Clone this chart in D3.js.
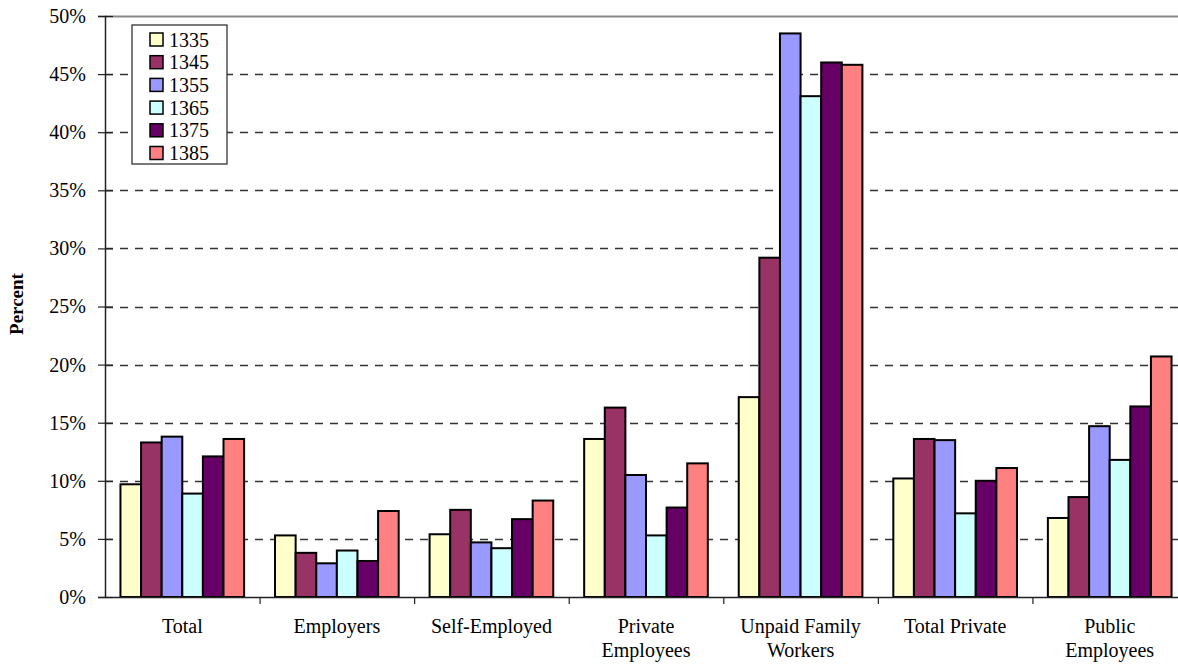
<!DOCTYPE html>
<html>
<head>
<meta charset="utf-8">
<script src="https://cdn.jsdelivr.net/npm/d3@7"></script>
<style>
  body { margin: 0; background: #fff; }
  svg text { font-family: "Liberation Serif", "Times New Roman", serif; }
</style>
</head>
<body>
<div id="chart"></div>
<script>
// data
const categories = ['Total', 'Employers', 'Self-Employed', 'Private Employees', 'Unpaid Family Workers', 'Total Private', 'Public Employees'];
const years = ['1335', '1345', '1355', '1365', '1375', '1385'];
const colors = ['#FFFFCC', '#993366', '#9999FF', '#CCFFFF', '#660066', '#FF8080'];
const v1335 = [9.7, 5.3, 5.4, 13.6, 17.2, 10.2, 6.8];
const v1345 = [13.3, 3.8, 7.5, 16.3, 29.2, 13.6, 8.6];
const v1355 = [13.8, 2.9, 4.7, 10.5, 48.5, 13.5, 14.7];
const v1365 = [8.9, 4.0, 4.2, 5.3, 43.1, 7.2, 11.8];
const v1375 = [12.1, 3.1, 6.7, 7.7, 46.0, 10.0, 16.4];
const v1385 = [13.6, 7.4, 8.3, 11.5, 45.8, 11.1, 20.7];
const series = [v1335, v1345, v1355, v1365, v1375, v1385];
const yTicks = [0, 5, 10, 15, 20, 25, 30, 35, 40, 45, 50];

const width = 1178, height = 664;
const plotLeft = 105, plotTop = 16, plotBottom = 597, plotRight = 1187;
const serif = '"Liberation Serif", "Times New Roman", serif';

const svg = d3.select('#chart').append('svg')
  .attr('width', width)
  .attr('height', height);

const x = d3.scaleBand().domain(categories).range([plotLeft, plotRight]).paddingInner(0).paddingOuter(0);
const x1 = d3.scaleBand().domain(years).range([0, x.bandwidth()]).paddingInner(0).paddingOuter(0.75);
const y = d3.scaleLinear().domain([0, 50]).range([plotBottom, plotTop]);

// gridlines
svg.append('g')
  .selectAll('line')
  .data(yTicks.filter(t => t > 0))
  .enter().append('line')
  .attr('x1', plotLeft)
  .attr('x2', width)
  .attr('y1', d => Math.round(y(d)) + 0.5)
  .attr('y2', d => Math.round(y(d)) + 0.5)
  .attr('stroke', d => d === 50 ? '#888' : '#333')
  .attr('stroke-width', d => d === 50 ? 2 : 1.3)
  .attr('stroke-dasharray', d => d === 50 ? null : '8,7');

// bars
const groups = svg.append('g')
  .selectAll('g')
  .data(categories)
  .enter().append('g')
  .attr('transform', c => `translate(${x(c)},0)`);

groups.selectAll('rect')
  .data((c, i) => years.map((yr, j) => ({ yr, color: colors[j], value: series[j][i] })))
  .enter().append('rect')
  .attr('x', d => x1(d.yr))
  .attr('width', x1.bandwidth())
  .attr('y', d => y(d.value))
  .attr('height', d => plotBottom - y(d.value))
  .attr('fill', d => d.color)
  .attr('stroke', '#000')
  .attr('stroke-width', 2);

// y axis
const yAxis = svg.append('g')
  .attr('transform', `translate(${plotLeft},0)`)
  .call(d3.axisLeft(y).tickValues(yTicks).tickFormat(d => d + '%').tickSize(7).tickPadding(12));
yAxis.attr('font-family', serif).attr('font-size', 20);
yAxis.select('.domain').attr('stroke', '#222').attr('stroke-width', 1.5);
yAxis.selectAll('.tick line').attr('x2', 8).attr('x1', -7).attr('stroke', '#222').attr('stroke-width', 1.2);
yAxis.selectAll('.tick text')
  .attr('font-family', serif)
  .attr('font-size', 20)
  .attr('fill', '#000');

// x axis
const xAxis = svg.append('g')
  .attr('transform', `translate(0,${plotBottom})`)
  .call(d3.axisBottom(x).tickSize(0).tickFormat(''));
xAxis.select('.domain').attr('stroke', '#222').attr('stroke-width', 1.5);
xAxis.selectAll('.tick').remove();

svg.append('g')
  .selectAll('line')
  .data(categories.slice(1))
  .enter().append('line')
  .attr('x1', c => x(c) + 0.5)
  .attr('x2', c => x(c) + 0.5)
  .attr('y1', plotBottom)
  .attr('y2', plotBottom + 7)
  .attr('stroke', '#222')
  .attr('stroke-width', 1.2);

// category labels (two lines where they wrap)
const labelLines = {
  'Private Employees': ['Private', 'Employees'],
  'Unpaid Family Workers': ['Unpaid Family', 'Workers'],
  'Public Employees': ['Public', 'Employees']
};
const catText = svg.append('g')
  .selectAll('text')
  .data(categories)
  .enter().append('text')
  .attr('x', c => x(c) + x.bandwidth() / 2)
  .attr('y', 633)
  .attr('text-anchor', 'middle')
  .attr('font-family', serif)
  .attr('font-size', 20)
  .attr('fill', '#000');
catText.each(function (c) {
  const lines = labelLines[c] || [c];
  d3.select(this).selectAll('tspan')
    .data(lines)
    .enter().append('tspan')
    .attr('x', x(c) + x.bandwidth() / 2)
    .attr('dy', (d, i) => i === 0 ? 0 : 24)
    .text(d => d);
});

// y title
svg.append('text')
  .attr('transform', 'translate(23,304) rotate(-90)')
  .attr('text-anchor', 'middle')
  .attr('font-family', serif)
  .attr('font-size', 19)
  .attr('font-weight', 'bold')
  .text('Percent');

// legend
const legend = svg.append('g').attr('transform', 'translate(132,25)');
legend.append('rect')
  .attr('width', 95)
  .attr('height', 139)
  .attr('fill', '#fff')
  .attr('stroke', '#222')
  .attr('stroke-width', 1.2);
const item = legend.selectAll('g.item')
  .data(years)
  .enter().append('g')
  .attr('class', 'item')
  .attr('transform', (d, i) => `translate(18,${14.5 + i * 22.7})`);
item.append('rect')
  .attr('x', 0)
  .attr('y', -6.5)
  .attr('width', 13)
  .attr('height', 13)
  .attr('fill', (d, i) => colors[i])
  .attr('stroke', '#000')
  .attr('stroke-width', 1.5);
item.append('text')
  .attr('x', 19)
  .attr('y', 7)
  .attr('font-family', serif)
  .attr('font-size', 20)
  .text(d => d);
</script>
</body>
</html>
